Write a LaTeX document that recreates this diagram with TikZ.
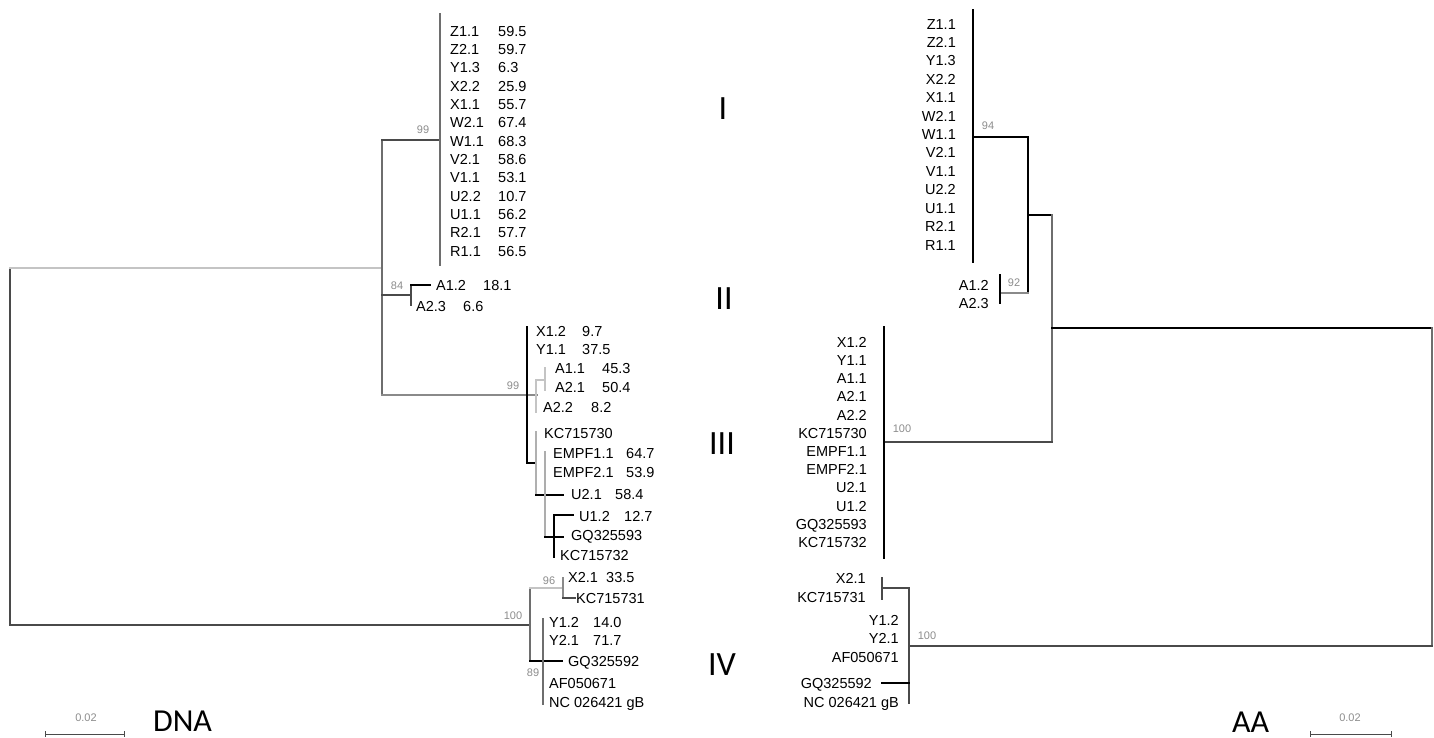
\documentclass[tikz,border=0pt]{standalone}
\usepackage{fontspec}
\setmainfont{Liberation Sans}
\newfontfamily\calfont{Carlito}
\definecolor{lg}{HTML}{C4C4C4}
\definecolor{mg}{HTML}{8A8A8A}
\definecolor{dg}{HTML}{4A4A4A}
\definecolor{bs}{HTML}{8C8C8C}
\begin{document}
\begin{tikzpicture}[x=1pt,y=-1pt,
  tipw/.style={anchor=west,inner sep=0pt,font=\fontsize{14.5}{16}\selectfont,text height=10.4pt,text depth=0pt},
  tipe/.style={anchor=east,inner sep=0pt,font=\fontsize{14.5}{16}\selectfont,text height=10.4pt,text depth=0pt},
  boot/.style={inner sep=0pt,font=\fontsize{11}{12}\selectfont,text=bs},
  clade/.style={inner sep=0pt,font=\calfont\fontsize{34}{36}\selectfont,text height=22pt,text depth=0pt},
  title/.style={inner sep=0pt,font=\calfont\fontsize{32}{34}\selectfont,text height=20.6pt,text depth=0pt},
  br/.style={line width=1.1pt,line cap=rect},
]
\useasboundingbox (0,0) rectangle (1434,738);

% ================= LEFT TREE (DNA) =================
\foreach \n/\v [count=\i from 0] in {Z1.1/59.5,Z2.1/59.7,Y1.3/6.3,X2.2/25.9,X1.1/55.7,W2.1/67.4,W1.1/68.3,V2.1/58.6,V1.1/53.1,U2.2/10.7,U1.1/56.2,R2.1/57.7,R1.1/56.5}{
  \node[tipw] (dI\i) at (450,31+18.33*\i) {\n};
  \node[tipw] (dIv\i) at (498,31+18.33*\i) {\v};
}
\node[tipw] (dA12) at (436,285) {A1.2};
\node[tipw] (dA12v) at (483,285) {18.1};
\node[tipw] (dA23) at (416,306) {A2.3};
\node[tipw] (dA23v) at (463,306) {6.6};
\node[tipw] (dX12) at (536,331) {X1.2};   \node[tipw] (dX12v) at (582,331) {9.7};
\node[tipw] (dY11) at (536,349) {Y1.1};   \node[tipw] (dY11v) at (582,349) {37.5};
\node[tipw] (dA11) at (555,368) {A1.1};   \node[tipw] (dA11v) at (602,368) {45.3};
\node[tipw] (dA21) at (555,387) {A2.1};   \node[tipw] (dA21v) at (602,387) {50.4};
\node[tipw] (dA22) at (543,407) {A2.2};   \node[tipw] (dA22v) at (591,407) {8.2};
\node[tipw] (dKC30) at (544,433) {KC715730};
\node[tipw] (dE11) at (553,453) {EMPF1.1}; \node[tipw] (dE11v) at (626,453) {64.7};
\node[tipw] (dE21) at (553,472) {EMPF2.1}; \node[tipw] (dE21v) at (626,472) {53.9};
\node[tipw] (dU21) at (571,494) {U2.1};   \node[tipw] (dU21v) at (615,494) {58.4};
\node[tipw] (dU12) at (579,516) {U1.2};   \node[tipw] (dU12v) at (624,516) {12.7};
\node[tipw] (dGQ93) at (571,535) {GQ325593};
\node[tipw] (dKC32) at (560,555) {KC715732};
\node[tipw] (dX21) at (568,577) {X2.1};   \node[tipw] (dX21v) at (606,577) {33.5};
\node[tipw] (dKC31) at (576,598) {KC715731};
\node[tipw] (dY12) at (549,622) {Y1.2};   \node[tipw] (dY12v) at (593,622) {14.0};
\node[tipw] (dY21) at (549,640) {Y2.1};   \node[tipw] (dY21v) at (593,640) {71.7};
\node[tipw] (dGQ92) at (568,661) {GQ325592};
\node[tipw] (dAF) at (549,683) {AF050671};
\node[tipw] (dNC) at (549,702) {NC 026421 gB};

% left branches
\draw[br,dg] (10,268) -- (10,625);
\draw[br,lg] (10,268) -- (382,268);
\draw[br,dg] (10,625) -- (530,625);
\draw[br,mg!80!black] (382,140) -- (382,395);
\draw[br,dg] (382,140) -- (440,140);
\draw[br,dg!80] (440,14) -- (440,265);
\draw[br,dg] (382,295) -- (411,295);
\draw[br,dg] (411,285) -- (411,305);
\draw[br,black] (411,285) -- (430,285);
\draw[br,mg] (382,395) -- (537,395);
\draw[br,black] (527,327) -- (527,463) -- (536,463);
\draw[br,lg] (536,380) -- (536,412);
\draw[br,lg] (536,380) -- (545,380);
\draw[br,lg] (545,368) -- (545,390);
\draw[br,lg!90!black] (536,432) -- (536,495);
\draw[br,black] (536,495) -- (563,495);
\draw[br,mg!70] (545,452) -- (545,537);
\draw[br,black] (545,537) -- (563,537);
\draw[br,black] (554,515) -- (554,557);
\draw[br,black] (554,515) -- (573,515);
\draw[br,dg!80] (530,588) -- (530,661);
\draw[br,lg] (530,588) -- (563,588);
\draw[br,mg] (563,578) -- (563,598);
\draw[br,dg] (563,598) -- (575,598);
\draw[br,black] (530,661) -- (562,661);
\draw[br,dg!80] (543,619) -- (543,704);

% left bootstrap values
\node[boot] (bl1) at (423,130) {99};
\node[boot] (bl2) at (397,286) {84};
\node[boot] (bl3) at (513,386) {99};
\node[boot] (bl4) at (549,581) {96};
\node[boot] (bl5) at (513,616) {100};
\node[boot] (bl6) at (533,673) {89};

% clade numerals
\node[clade] (cI) at (723,109) {I};
\node[clade] (cII) at (724,298) {II};
\node[clade] (cIII) at (722,443) {III};
\node[clade] (cIV) at (722,664) {IV};

% left scale bar
\draw[dg,line width=1pt] (45,734) -- (124,734);
\draw[dg,line width=1pt] (45,731) -- (45,737) (124,731) -- (124,737);
\node[boot] (sl) at (86,718) {0.02};
\node[title] (dna) at (182.5,721) {DNA};

% ================= RIGHT TREE (AA) =================
\foreach \n [count=\i from 0] in {Z1.1,Z2.1,Y1.3,X2.2,X1.1,W2.1,W1.1,V2.1,V1.1,U2.2,U1.1,R2.1,R1.1}{
  \node[tipe] (aI\i) at (956,24+18.4*\i) {\n};
}
\node[tipe] (aA12) at (989,285) {A1.2};
\node[tipe] (aA23) at (989,303) {A2.3};
\foreach \n [count=\i from 0] in {X1.2,Y1.1,A1.1,A2.1,A2.2,KC715730,EMPF1.1,EMPF2.1,U2.1,U1.2,GQ325593,KC715732}{
  \node[tipe] (aIII\i) at (867,342+18.2*\i) {\n};
}
\node[tipe] (aX21) at (866,578) {X2.1};
\node[tipe] (aKC31) at (866,597) {KC715731};
\node[tipe] (aY12) at (899,620) {Y1.2};
\node[tipe] (aY21) at (899,638) {Y2.1};
\node[tipe] (aAF) at (899,657) {AF050671};
\node[tipe] (aGQ92) at (872,683) {GQ325592};
\node[tipe] (aNC) at (899,702) {NC 026421 gB};

% right branches
\draw[br,black] (973,10) -- (973,262);
\draw[br,black] (973,137) -- (1028,137) -- (1028,293);
\draw[br,mg] (1000,293) -- (1028,293);
\draw[br,black] (1000,275) -- (1000,303);
\draw[br,black] (1028,215) -- (1052,215);
\draw[br,mg!80!black] (1052,215) -- (1052,442);
\draw[br,dg] (884,442) -- (1052,442);
\draw[br,black] (884,327) -- (884,558);
\draw[br,black] (1052,328) -- (1432,328);
\draw[br,mg!80!black] (1432,328) -- (1432,646);
\draw[br,dg] (909,646) -- (1432,646);
\draw[br,dg] (909,588) -- (909,703);
\draw[br,dg] (882,588) -- (909,588);
\draw[br,dg] (882,578) -- (882,599);
\draw[br,black] (882,683) -- (909,683);

% right bootstrap values
\node[boot] (br1) at (988,126) {94};
\node[boot] (br2) at (1014,283) {92};
\node[boot] (br3) at (902,429) {100};
\node[boot] (br4) at (927,636) {100};

% right scale bar
\draw[dg,line width=1pt] (1310,734) -- (1391,734);
\draw[dg,line width=1pt] (1310,731) -- (1310,737) (1391,731) -- (1391,737);
\node[boot] (sr) at (1350,718) {0.02};
\node[title] (aa) at (1250.5,722) {AA};
\end{tikzpicture}
\end{document}
